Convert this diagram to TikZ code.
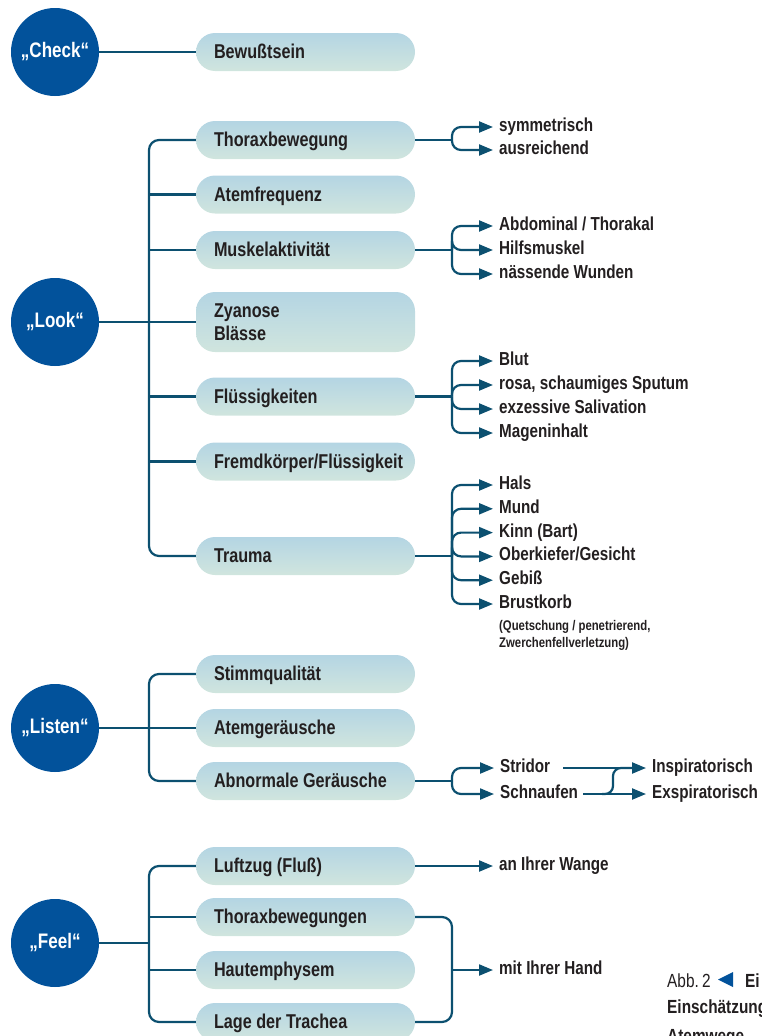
\documentclass[tikz,border=0pt]{standalone}
\usepackage{fontspec}
\setmainfont{Liberation Sans}[FakeStretch=0.81]
\usetikzlibrary{arrows.meta,calc}
\definecolor{cblue}{RGB}{2,82,155}
\definecolor{lblue}{RGB}{12,80,112}
\definecolor{btop}{RGB}{180,213,227}
\definecolor{bbot}{RGB}{208,229,222}
\definecolor{tdark}{RGB}{35,31,32}
\tikzset{
  circ/.style={circle, fill=cblue, minimum size=88pt, inner sep=0pt, text=white,
    font=\fontsize{21}{24}\selectfont\bfseries},
  bx/.style={rectangle, rounded corners=19pt, top color=btop, bottom color=bbot, draw=none,
    minimum height=38pt, text width=183pt, inner xsep=18pt, inner ysep=0pt, align=flush left,
    text=tdark, font=\fontsize{20}{23}\selectfont\bfseries, text height=15pt, text depth=2pt},
  lab/.style={anchor=west, inner sep=0pt, text=tdark,
    font=\fontsize{18.8}{22}\selectfont\bfseries, text height=12pt, text depth=3pt},
  sublab/.style={anchor=base west, inner sep=0pt, text=tdark, align=flush left,
    font=\fontsize{14}{17}\selectfont\bfseries},
  conn/.style={draw=lblue, line width=2.2pt},
  arr/.style={conn, -{Triangle[length=14pt,width=11pt]}, shorten >=6pt, rounded corners=9pt},
  captxt/.style={anchor=base west, inner sep=0pt, text=tdark, font=\fontsize{19}{25}\selectfont},
  captbold/.style={captxt, font=\fontsize{19}{25}\selectfont\bfseries},
}
\begin{document}
\begin{tikzpicture}[x=1pt,y=-1pt]
\useasboundingbox (0,0) rectangle (761,1036);
% trunk and junction columns
\coordinate (lk) at (149,0);
\coordinate (jx) at (452,0);
% circles
\node[circ] (check) at (55,52) {„Check“};
\node[circ] (look) at (55,322) {„Look“};
\node[circ] (listen) at (55,728) {„Listen“};
\node[circ] (feel) at (55,943) {„Feel“};
% boxes
\node[bx] (bew) at (305.5,52) {Bewußtsein};
\node[bx] (thx) at (305.5,140) {Thoraxbewegung};
\node[bx] (atf) at (305.5,194.5) {Atemfrequenz};
\node[bx] (mus) at (305.5,250) {Muskelaktivität};
\node[bx, minimum height=60pt, text depth=25pt] (zya) at (305.5,322) {Zyanose\\Blässe};
\node[bx] (flu) at (305.5,396.5) {Flüssigkeiten};
\node[bx] (fre) at (305.5,461.5) {\mbox{Fremdkörper/Flüssigkeit}};
\node[bx] (tra) at (305.5,556) {Trauma};
\node[bx] (sti) at (305.5,674) {Stimmqualität};
\node[bx] (ate) at (305.5,728) {Atemgeräusche};
\node[bx] (abn) at (305.5,781) {Abnormale Geräusche};
\node[bx] (luf) at (305.5,866) {Luftzug (Fluß)};
\node[bx] (thb) at (305.5,917) {Thoraxbewegungen};
\node[bx] (hau) at (305.5,970) {Hautemphysem};
\node[bx] (lag) at (305.5,1022) {Lage der Trachea};
% right labels
\node[lab] (sym) at (499,127) {symmetrisch};
\node[lab] (aus) at (499,150) {ausreichend};
\node[lab] (abd) at (499,226) {Abdominal / Thorakal};
\node[lab] (hil) at (499,250) {Hilfsmuskel};
\node[lab] (nas) at (499,274) {nässende Wunden};
\node[lab] (blu) at (499,361) {Blut};
\node[lab] (ros) at (499,385) {rosa, schaumiges Sputum};
\node[lab] (exz) at (499,409) {exzessive Salivation};
\node[lab] (mag) at (499,433) {Mageninhalt};
\node[lab] (hal) at (499,485) {Hals};
\node[lab] (mun) at (499,508.8) {Mund};
\node[lab] (kin) at (499,532.6) {Kinn (Bart)};
\node[lab] (obe) at (499,556.4) {Oberkiefer/Gesicht};
\node[lab] (geb) at (499,580.2) {Gebiß};
\node[lab] (bru) at (499,604) {Brustkorb};
\node[sublab] (que) at (499,647) {(Quetschung / penetrierend,\\Zwerchenfellverletzung)};
\node[lab] (str) at (500,768) {Stridor};
\node[lab] (sch) at (500,794) {Schnaufen};
\node[lab] (ins) at (652,768) {Inspiratorisch};
\node[lab] (exs) at (652,794) {Exspiratorisch};
\node[lab] (wan) at (499,866) {an Ihrer Wange};
\node[lab] (han) at (499,970) {mit Ihrer Hand};
% caption
\node[captxt] (c1) at (667,987) {Abb.\,2};
\fill[cblue] (718,979.5) -- (733,972) -- (733,987) -- cycle;
\node[captbold] (c2) at (745,987) {Ei};
\node[captbold] (c3) at (667,1013) {Einschätzung};
\node[captbold] (c4) at (667,1042) {Atemwege};
% Check
\draw[conn] (check.east) -- (bew.west);
% Look
\draw[conn, rounded corners=10pt] (thx.west) -- (lk |- thx.west) -- (lk |- tra.west) -- (tra.west);
\draw[conn] (look.east) -- (zya.west);
\draw[conn] (lk |- atf.west) -- (atf.west);
\draw[conn] (lk |- mus.west) -- (mus.west);
\draw[conn] (lk |- flu.west) -- (flu.west);
\draw[conn] (lk |- fre.west) -- (fre.west);
% Look right branches
\draw[conn] (thx.east) -- (jx |- thx.east);
\foreach \t in {sym,aus} \draw[arr] (jx |- thx.east) |- (\t.west);
\draw[conn] (mus.east) -- (jx |- mus.east);
\foreach \t in {abd,hil,nas} \draw[arr] (jx |- mus.east) |- (\t.west);
\draw[conn] (flu.east) -- (jx |- flu.east);
\foreach \t in {blu,ros,exz,mag} \draw[arr] (jx |- flu.east) |- (\t.west);
\draw[conn] (tra.east) -- (jx |- tra.east);
\foreach \t in {hal,mun,kin,obe,geb,bru} \draw[arr] (jx |- tra.east) |- (\t.west);
% Listen
\draw[conn, rounded corners=10pt] (sti.west) -- (lk |- sti.west) -- (lk |- abn.west) -- (abn.west);
\draw[conn] (listen.east) -- (ate.west);
\draw[conn] (abn.east) -- (jx |- abn.east);
\foreach \t in {str,sch} \draw[arr] (jx |- abn.east) |- (\t.west);
\draw[arr] ([xshift=13pt]str.east) -- (ins.west);
\draw[arr] ([xshift=5pt]sch.east) -- (exs.west);
\coordinate (sA) at (602,794);
\coordinate (sB) at (632,768);
\draw[conn, rounded corners=8pt] (sA) -- ++(11,0) |- (sB);
% Feel
\draw[conn, rounded corners=10pt] (luf.west) -- (lk |- luf.west) -- (lk |- lag.west) -- (lag.west);
\draw[conn] (feel.east) -- (lk |- feel.east);
\draw[conn] (lk |- thb.west) -- (thb.west);
\draw[conn] (lk |- hau.west) -- (hau.west);
\draw[arr] (luf.east) -- (wan.west);
\draw[conn, rounded corners=10pt] (thb.east) -| (jx |- lag.east) -- (lag.east);
\draw[arr] (jx |- han.west) -- (han.west);
\end{tikzpicture}
\end{document}
